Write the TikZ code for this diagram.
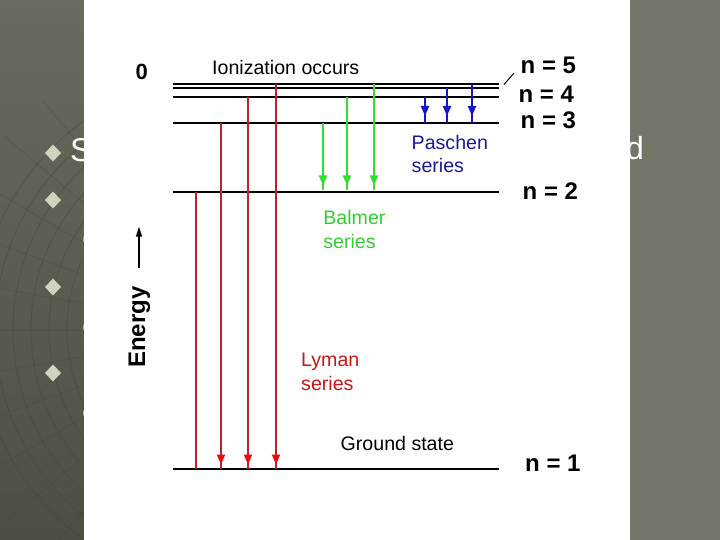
\documentclass[tikz,border=0pt]{standalone}
\usepackage{fontspec}
\setmainfont{Liberation Sans}
\usetikzlibrary{arrows.meta,decorations.markings}
\definecolor{bgtop}{HTML}{6A6A5E}
\definecolor{bgbot}{HTML}{4E4E46}
\definecolor{bgright}{HTML}{75766A}
\definecolor{gridc}{HTML}{45453C}
\definecolor{bullc}{HTML}{D2D2BE}
\definecolor{redline}{HTML}{C0202A}
\definecolor{redhead}{HTML}{EE0A0A}
\definecolor{redtxt}{HTML}{CC1414}
\definecolor{grn}{HTML}{33DD33}
\definecolor{grntxt}{HTML}{33CC33}
\definecolor{blu}{HTML}{1515CC}
\definecolor{blutxt}{HTML}{1A1A99}
\tikzset{
  level/.style={line width=2pt},
  lbl/.style={inner sep=0pt, anchor=base west, font=\fontsize{19.6}{22}\selectfont},
  nlbl/.style={inner sep=0pt, anchor=base west, font=\fontsize{24}{26}\selectfont\bfseries},
  bgtxt/.style={inner sep=0pt, anchor=base west, text=white},
  headmark/.style args={#1 at #2}{postaction={decorate}, decoration={markings,
      mark=at position #2 with {\arrow{Triangle[width=8pt,length=10pt,fill=#1,color=#1]}}}},
  lyman/.style={line width=2pt, redline},
  balmer/.style={line width=2pt, grn},
  paschen/.style={line width=2pt, blu},
}
\begin{document}
\begin{tikzpicture}[x=1pt,y=-1pt]
\useasboundingbox (0,0) rectangle (720,540);
% slide background
\shade[top color=bgtop, bottom color=bgbot] (0,0) rectangle (720,540);
\fill[bgright] (629,0) rectangle (720,540);
\begin{scope}
  \clip (0,0) rectangle (84,540);
  \foreach \r in {150,168,...,260} \draw[gridc, opacity=0.45, line width=0.8pt] (235,330) circle (\r);
  \foreach \a in {120,130,...,250} \draw[gridc, opacity=0.35, line width=0.7pt] (235,330) -- ++(\a:300);
\end{scope}
\foreach \y [count=\i] in {153,200,287,373}
  \fill[bullc] (53,\y-8.5) coordinate (b\i) -- (61,\y) -- (53,\y+8.5) -- (45,\y) -- cycle;
\node[bgtxt, font=\fontsize{33}{36}\selectfont] (sS) at (70,161.7) {S};
\node[bgtxt, font=\fontsize{32}{36}\selectfont] (sD) at (626,160) {d};
\node[bgtxt, font=\fontsize{22}{24}\selectfont] (sC1) at (82.5,245.5) {o};
\node[bgtxt, font=\fontsize{22}{24}\selectfont] (sC2) at (82.5,333) {o};
\node[bgtxt, font=\fontsize{22}{24}\selectfont] (sC3) at (82.5,419.5) {o};
% white panel
\fill[white] (84,0) rectangle (629.5,540);
% energy levels
\coordinate (L6w) at (173,84);  \coordinate (L6e) at (499,84);
\coordinate (L5w) at (173,88);  \coordinate (L5e) at (499,88);
\coordinate (L4w) at (173,97);  \coordinate (L4e) at (499,97);
\coordinate (L3w) at (173,123); \coordinate (L3e) at (499,123);
\coordinate (L2w) at (173,192); \coordinate (L2e) at (499,192);
\coordinate (L1w) at (173,469); \coordinate (L1e) at (499,469);
\foreach \l in {6,5,4,3,2,1} \draw[level] (L\l w) -- (L\l e);
% Lyman (red)
\coordinate (r0a) at (196,192); \coordinate (r0b) at (196,469);
\coordinate (r1a) at (221,123); \coordinate (r1b) at (221,469);
\coordinate (r2a) at (248,97);  \coordinate (r2b) at (248,469);
\coordinate (r3a) at (276,84);  \coordinate (r3b) at (276,469);
\draw[lyman] (r0a) -- (r0b);
\foreach \i in {1,2,3} \draw[lyman, headmark=redhead at -4.5pt] (r\i a) -- (r\i b);
% Balmer (green)
\coordinate (g1a) at (323,123); \coordinate (g1b) at (323,190);
\coordinate (g2a) at (347,97);  \coordinate (g2b) at (347,190);
\coordinate (g3a) at (374,84);  \coordinate (g3b) at (374,190);
\foreach \i in {1,2,3} \draw[balmer, headmark=grn at -4.5pt] (g\i a) -- (g\i b);
% Paschen (blue)
\coordinate (p1a) at (425,97); \coordinate (p1b) at (425,123);
\coordinate (p2a) at (447,88); \coordinate (p2b) at (447,123);
\coordinate (p3a) at (472,84); \coordinate (p3b) at (472,123);
\foreach \i in {1,2,3} \draw[paschen, headmark=blu at -7pt] (p\i a) -- (p\i b);
% labels
\node[inner sep=0pt, anchor=base west, font=\fontsize{22}{24}\selectfont\bfseries] (zero) at (135.5,79.3) {0};
\node[lbl] (ion) at (212,75) {Ionization occurs};
\node[nlbl] (n5) at (520.5,73.3) {n = 5};
\node[nlbl] (n4) at (518.3,102.3) {n = 4};
\node[nlbl] (n3) at (520.5,129) {n = 3};
\node[nlbl] (n2) at (522.5,200) {n = 2};
\node[nlbl] (n1) at (525,471.7) {n = 1};
\coordinate (sl1) at (504,84.5); \coordinate (sl2) at (514,73);
\draw[line width=1pt] (sl1) -- (sl2);
\node[lbl, text=blutxt] (pa1) at (411.5,149.3) {Paschen};
\node[lbl, text=blutxt] (pa2) at (411.5,172.7) {series};
\node[lbl, text=grntxt] (ba1) at (323.2,224.5) {Balmer};
\node[lbl, text=grntxt] (ba2) at (323.2,248.6) {series};
\node[lbl, text=redtxt] (ly1) at (301,366) {Lyman};
\node[lbl, text=redtxt] (ly2) at (301,390.7) {series};
\node[lbl] (gs) at (340.5,450.7) {Ground state};
\node[inner sep=0pt, rotate=90, font=\fontsize{24}{26}\selectfont\bfseries] (en) at (139.3,327) {Energy};
\coordinate (ea) at (139,268); \coordinate (eb) at (139,226.7);
\draw[line width=1.2pt, -{Triangle[width=6pt,length=10pt]}] (ea) -- (eb);
\end{tikzpicture}
\end{document}
